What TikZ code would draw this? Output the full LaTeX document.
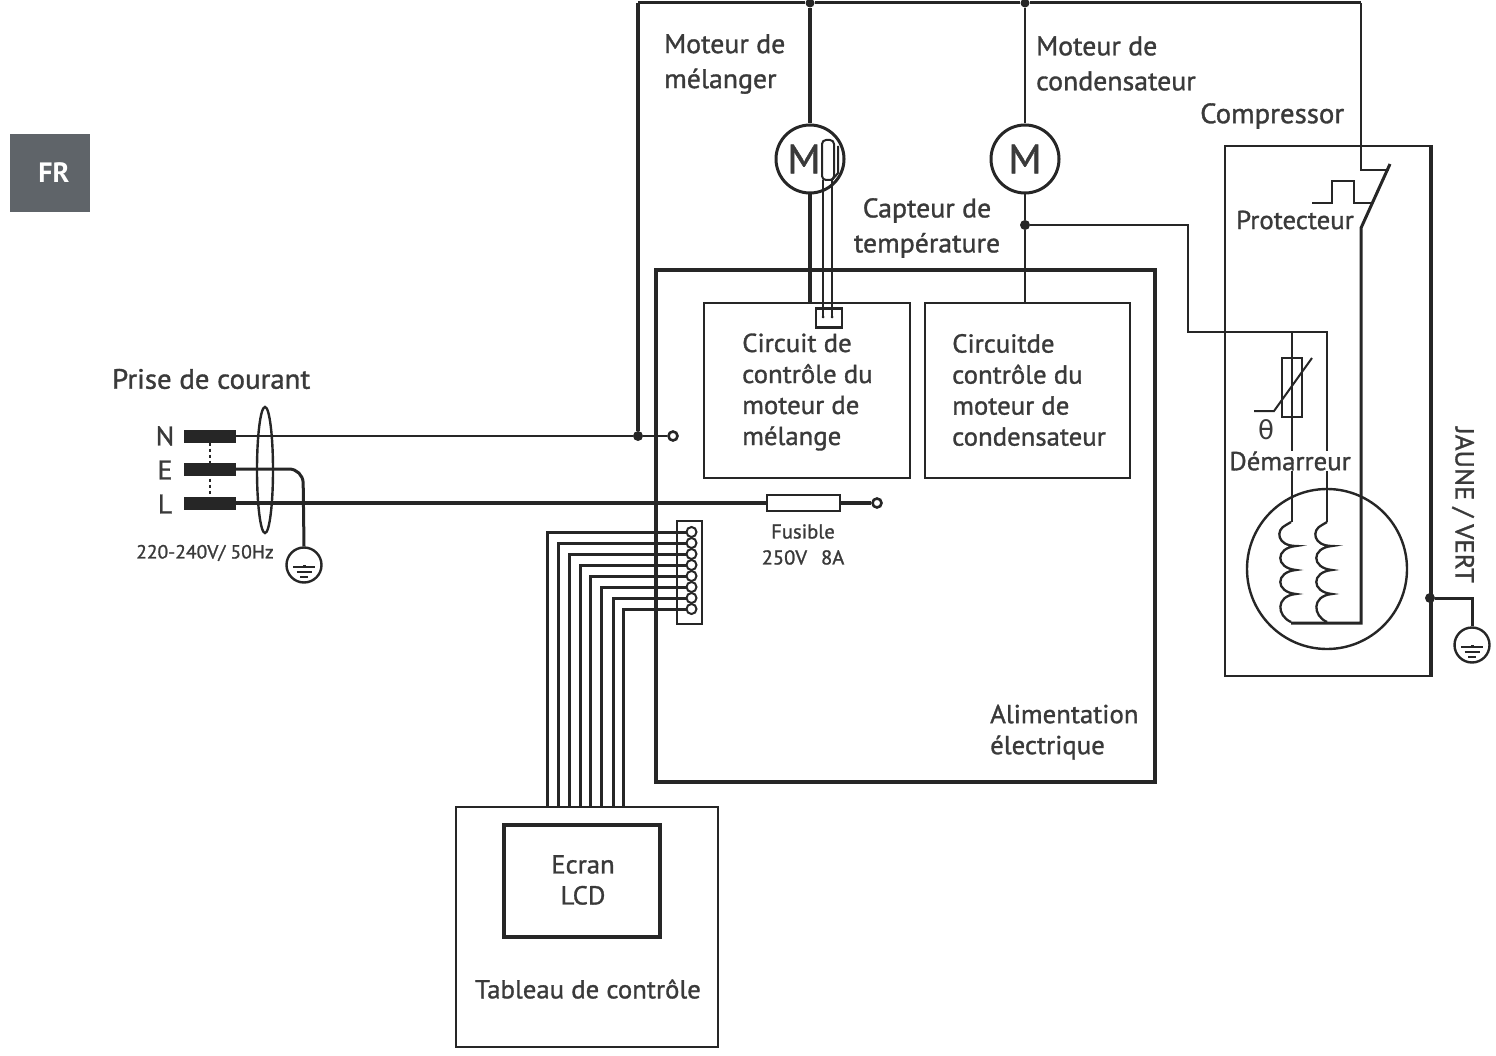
\documentclass[tikz,border=0pt]{standalone}
\usepackage{fontspec}
\setmainfont{PT Sans}[FakeBold=1.2,FakeStretch=1.03]
\newfontfamily\thetafont{DejaVu Sans}
\newfontfamily\boldlab{PT Sans Bold}
\definecolor{ink}{HTML}{262626}
\definecolor{txt}{HTML}{3A3A3A}
\definecolor{tab}{HTML}{5F6469}
\tikzset{
  thinw/.style={draw=ink,line width=2pt},
  medw/.style={draw=ink,line width=3pt},
  boxw/.style={draw=ink,line width=2.6pt},
  thickw/.style={draw=ink,line width=3.2pt},
  lab/.style={text=txt,inner sep=0pt,font=\fontsize{26}{31}\selectfont,align=left},
  upper/.style={text=txt,inner sep=0pt,font=\fontsize{27}{35}\selectfont,align=left},
  wide/.style={text=txt,inner sep=0pt,font=\fontsize{28}{35}\selectfont,align=left},
  small/.style={text=txt,inner sep=0pt,font=\fontsize{20}{26}\selectfont,align=center},
  motor/.style={circle,draw=ink,line width=3pt,minimum size=68pt,inner sep=0pt,text=txt,font=\fontsize{41}{41}\selectfont},
  gnd/.style={circle,draw=ink,line width=2.4pt,minimum size=35pt,inner sep=0pt},
  term/.style={circle,draw=ink,line width=2.6pt,minimum size=9pt,inner sep=0pt,fill=white},
  pin/.style={circle,draw=ink,line width=2pt,minimum size=10pt,inner sep=0pt},
  dotn/.style={circle,fill=ink,minimum size=10pt,inner sep=0pt},
  bar/.style={fill=ink,draw=none,minimum width=52pt,minimum height=13pt,inner sep=0pt},
  gbar/.style={draw=ink,line width=2pt},
}
\begin{document}
\begin{tikzpicture}[x=1pt,y=-1pt]
\useasboundingbox (0,0) rectangle (1496,1056);
% FR tab
\node[fill=tab,minimum width=80pt,minimum height=78pt,inner sep=0pt,text=white,font=\fontsize{28}{28}\selectfont\boldlab] (fr) at (50,173) {\hspace*{8pt}FR};
% boxes
\node[thickw,minimum width=499pt,minimum height=512pt,inner sep=0pt] (main) at (905.5,526) {};
\node[boxw,minimum width=206pt,minimum height=175pt,inner sep=0pt] (cm) at (807,390.5) {};
\node[thinw,minimum width=205pt,minimum height=175pt,inner sep=0pt] (cc) at (1027.5,390.5) {};
\node[thinw,minimum width=205pt,minimum height=530pt,inner sep=0pt] (comp) at (1327.5,411) {};
\draw[thickw] (comp.north east) -- (comp.south east);
\node[thinw,minimum width=262pt,minimum height=240pt,inner sep=0pt] (panel) at (587,927) {};
\node[thickw,minimum width=156pt,minimum height=112pt,inner sep=0pt] (lcd) at (582,881) {};
% motors
\node[motor] (m1) at (810,159) {\hspace*{-12pt}M};
\node[motor] (m2) at (1025,159) {M};
\node[dotn,minimum size=9pt] (t1) at (810,3) {};
\node[dotn,minimum size=9pt] (t2) at (1025,3) {};
\node[dotn] (jn) at (638,436) {};
\node[dotn] (js) at (1025,225) {};
\coordinate (tl) at (638,3);
\coordinate (tr) at (1361,3);
\draw[medw] (tl) -- (t1) -- (t2) -- (tr);
\draw[thickw] (tl) -- (jn);
\draw[thickw] (t1) -- (m1.north);
\draw[thickw] (m1.south) -- (810,303);
\draw[thinw] (t2) -- (m2.north);
\draw[thinw] (m2.south) -- (js) -- (1025,303);
% small connector + capsule
\node[boxw,minimum width=26pt,minimum height=19pt,inner sep=0pt] (sc) at (829,318) {};
\draw[thinw,rounded corners=4pt] (822,180) -- (822,140) -- (834,140) -- (834,180) -- cycle;
\draw[thinw] (823,180) -- (823,318);
\draw[thinw] (832,180) -- (832,318);
\draw[thinw] (832,180) -- (838,173) -- (838,146);
\fill[ink] (823,317) circle (1.5pt) (832,317) circle (1.5pt);
% mains plug
\node[bar] (bn) at (210,436) {};
\node[bar] (be) at (210,469) {};
\node[bar] (bl) at (210,503) {};
\draw[ink,line width=1.4pt,dashed] (bn) -- (bl);
\draw[ink,line width=2.4pt] (265,470) ellipse (8 and 63);
\node[term] (tn) at (673,436) {};
\node[term] (tf) at (877,503) {};
\node[draw=ink,line width=2.2pt,fill=white,minimum width=73pt,minimum height=16pt,inner sep=0pt] (fuse) at (803.5,503) {};
\draw[thinw] (bn.east) -- (jn) -- (tn);
\draw[thickw] (bl.east) -- (fuse.west);
\draw[thickw] (fuse.east) -- (tf);
\node[gnd] (g1) at (304,565) {};
\draw[medw,rounded corners=14pt] (be.east) -- (303,469) -- (g1.north);
\draw[medw] (g1.center) -- ++(0,3);
\foreach \w/\d in {22/2,15/7,8/12}{\draw[gbar] ([shift={(-\w/2,\d)}]g1.center) -- ++(\w,0);}
% ribbon connector
\node[boxw,minimum width=25pt,minimum height=103pt,inner sep=0pt] (rib) at (689.5,572.5) {};
\foreach \i/\px in {0/547,1/558,2/569,3/580,4/590,5/601,6/613,7/623}{
  \node[pin] (p\i) at (691.5,{532+11*\i}) {};
  \coordinate (b\i) at (\px,806);
  \draw[medw] (p\i.west) -| (b\i);
}
% compressor internals
\node[dotn] (je) at (1430,598) {};
\node[gnd] (g2) at (1472,645) {};
\draw[medw] (je) -- (1472,598) -- (g2.north);
\draw[medw] (g2.center) -- ++(0,3);
\foreach \w/\d in {22/2,15/7,8/12}{\draw[gbar] ([shift={(-\w/2,\d)}]g2.center) -- ++(\w,0);}
\draw[thinw,line width=2.4pt] (1327,569) circle (80);
\draw[thinw] (js) -- (1188,225) -- (1188,332) -- (1327,332) -- (1327,522);
\draw[thinw] (1292,332) -- (1292,522);
\node[draw=ink,line width=2.2pt,minimum width=20pt,minimum height=59pt,inner sep=0pt] (th) at (1292,387.5) {};
\draw[thinw] (1254,411) -- (1274,411) -- (1312,358);
\foreach \cx in {1291,1327}{
  \draw[draw=ink,line width=2.3pt] (\cx,522) -- (\cx-5,525)
    .. controls (\cx-16,530) and (\cx-14,546) .. (\cx+5,546)
    .. controls (\cx-16,548) and (\cx-16,568) .. (\cx+5,570)
    .. controls (\cx-16,572) and (\cx-16,592) .. (\cx+5,594)
    .. controls (\cx-16,596) and (\cx-14,616) .. (\cx,622);
}
\draw[medw] (1291,623) -- (1361,623) -- (1361,228) -- (1390,164);
\draw[thinw] (tr) -- (1361,170) -- (1389,170);
\draw[thinw] (1312,203) -- (1332,203) -- (1332,181) -- (1354,181) -- (1354,203) -- (1372,203);
% text
\node[upper,anchor=west] (a) at (664,64) {Moteur de\\mélanger};
\node[upper,anchor=west] (b) at (1036,63.5) {Moteur de\\condensateur};
\node[wide,anchor=west] (c) at (1200,116) {Compressor};
\node[upper,align=center] (d) at (927,228) {Capteur de\\température};
\node[wide,anchor=west] (e) at (112,379) {Prise de courant};
\node[upper] (n) at (165,436) {N};
\node[upper] (ee) at (165,470) {E};
\node[upper] (l) at (165,504) {L};
\node[small,font=\fontsize{19}{26}\selectfont] (v) at (205,553) {220-240V/ 50Hz};
\node[small] (fu) at (803,544.5) {Fusible\\250V\hspace{14pt}8A};
\node[lab,anchor=west] (t1x) at (742,392) {Circuit de\\contrôle du\\moteur de\\mélange};
\node[lab,anchor=west] (t2x) at (952,390) {Circuitde\\contrôle du\\moteur de\\condensateur};
\node[lab,anchor=west] (al) at (990,732) {Alimentation\\électrique};
\node[lab] (pr) at (1295,220) {Protecteur};
\node[lab,fill=white] (de) at (1290,461) {Démarreur};
\node[lab] (the) at (1266,430) {\thetafont θ};
\node[lab,rotate=-90] (jv) at (1463,505) {JAUNE / VERT};
\node[lab,align=center] (ec) at (583,880) {Ecran\\LCD};
\node[lab] (ta) at (588,989) {Tableau de contrôle};
\end{tikzpicture}
\end{document}
